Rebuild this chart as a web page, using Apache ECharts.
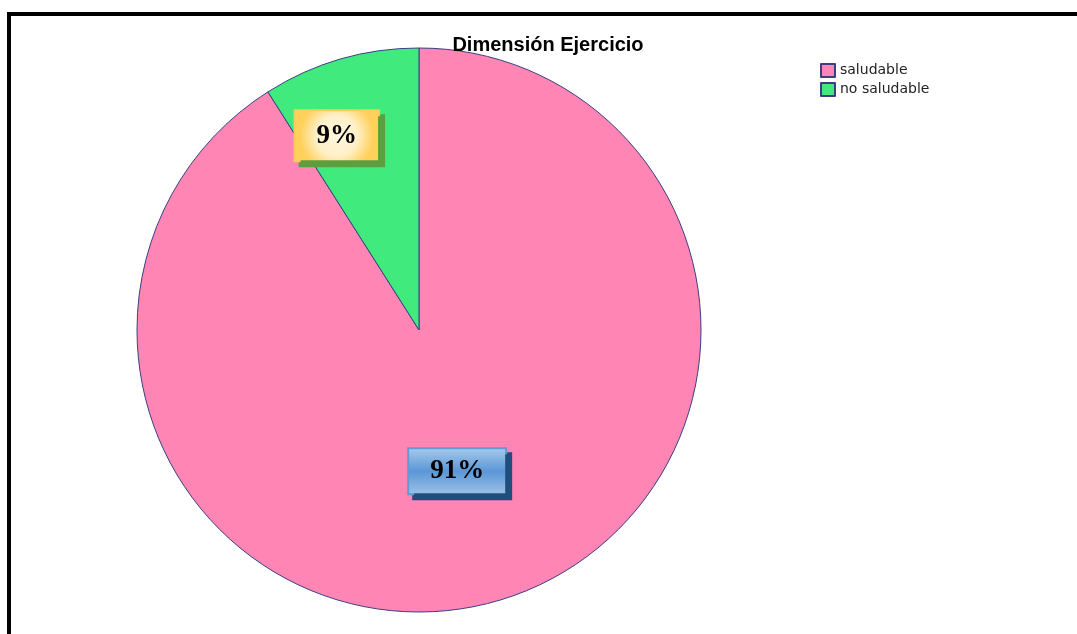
<!DOCTYPE html>
<html>
<head>
<meta charset="utf-8">
<script src="https://cdn.jsdelivr.net/npm/echarts@6/dist/echarts.min.js"></script>
<style>
  html, body { margin: 0; padding: 0; background: #ffffff; }
  #chart { width: 1077px; height: 634px; }
</style>
</head>
<body>
<div id="chart"></div>
<script>
// Survey result: exercise dimension
const chartTitle = 'Dimensión Ejercicio';
const categories = ['saludable', 'no saludable'];
const values = [91, 9];
const sliceColors = ['#ff85b4', '#40ea7c'];

// Label box styles per slice
const labelBoxes = [
  {
    backgroundColor: {
      type: 'linear', x: 0, y: 0, x2: 0, y2: 1,
      colorStops: [
        { offset: 0, color: '#a9cbec' },
        { offset: 0.5, color: '#5a97d6' },
        { offset: 1, color: '#9fc2e8' }
      ]
    },
    borderColor: '#5d9ad6',
    shadowColor: '#1f4e7c',
    padding: [9, 21, 8, 21]
  },
  {
    backgroundColor: {
      type: 'radial', x: 0.5, y: 0.5, r: 0.7,
      colorStops: [
        { offset: 0, color: '#fff6dc' },
        { offset: 0.55, color: '#fff0c8' },
        { offset: 1, color: '#ffd05a' }
      ]
    },
    borderColor: '#f7cc5c',
    shadowColor: '#5e9e3e',
    padding: [11, 21, 11, 21]
  }
];

const chart = echarts.init(document.getElementById('chart'), null, { renderer: 'canvas' });

const seriesData = categories.map((name, i) => ({
  name: name,
  value: values[i],
  itemStyle: { color: sliceColors[i] },
  label: Object.assign({}, labelBoxes[i])
}));

chart.setOption({
  animation: false,
  backgroundColor: '#ffffff',
  title: {
    text: chartTitle,
    left: 543,
    textAlign: 'center',
    top: 30,
    textStyle: {
      fontFamily: 'Liberation Sans, Arial, sans-serif',
      fontWeight: 'bold',
      fontSize: 20,
      color: '#000000'
    }
  },
  legend: {
    orient: 'vertical',
    left: 815,
    top: 58,
    itemWidth: 14,
    itemHeight: 13,
    itemGap: 4,
    icon: 'rect',
    textStyle: {
      fontFamily: 'DejaVu Sans, sans-serif',
      fontSize: 14,
      color: '#222222'
    },
    data: categories
  },
  graphic: [
    {
      type: 'rect',
      shape: { x: 9, y: 14, width: 1200, height: 800 },
      style: { fill: null, stroke: '#000000', lineWidth: 4 },
      silent: true
    }
  ],
  series: [
    {
      type: 'pie',
      center: [419, 330],
      radius: 282,
      startAngle: 90,
      clockwise: true,
      avoidLabelOverlap: false,
      itemStyle: { borderColor: '#3b3f82', borderWidth: 1 },
      emphasis: { disabled: true },
      label: {
        show: true,
        position: 'inside',
        formatter: '{d}%',
        fontFamily: 'Liberation Serif, Times New Roman, serif',
        fontWeight: 'bold',
        fontSize: 27,
        color: '#000000',
        borderWidth: 2,
        shadowBlur: 0,
        shadowOffsetX: 5,
        shadowOffsetY: 5
      },
      labelLine: { show: false },
      labelLayout: function (params) {
        // the small slice carries its label further out, near the rim
        if (params.dataIndex === 1) {
          return { dx: -42, dy: -56 };
        }
        return { dx: -2, dy: 3 };
      },
      data: seriesData
    }
  ]
});
</script>
</body>
</html>
